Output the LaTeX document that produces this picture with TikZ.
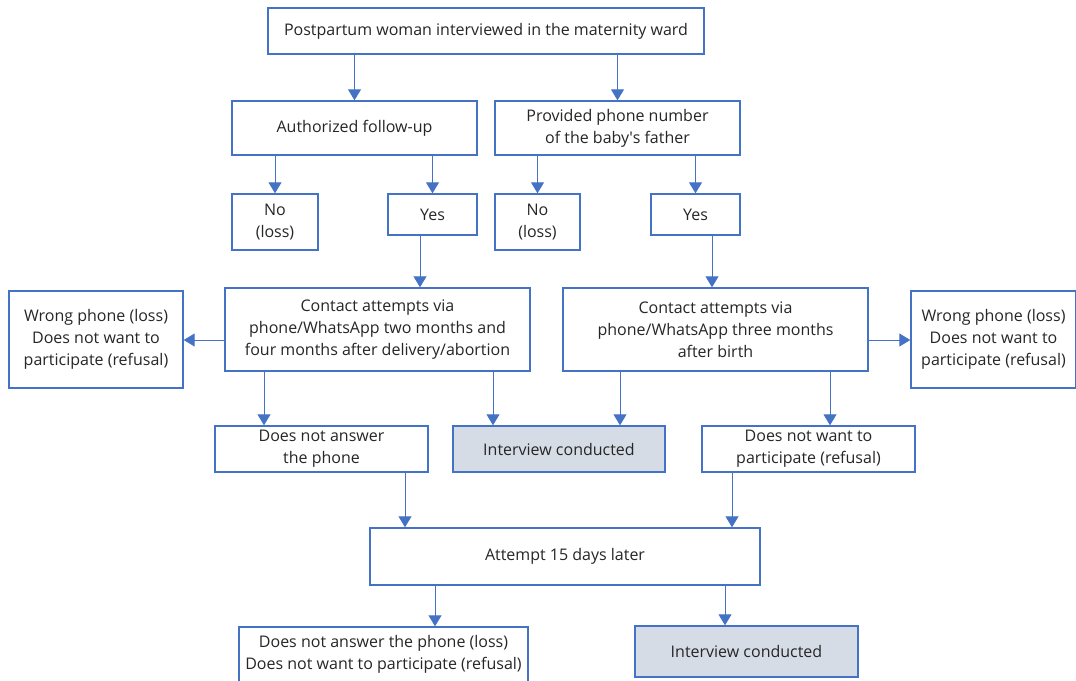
\documentclass[tikz,border=0pt]{standalone}
\usepackage{fontspec}
\setmainfont{Open Sans}
\usetikzlibrary{arrows.meta}
\definecolor{bblue}{HTML}{4472C4}
\definecolor{gfill}{HTML}{D6DCE5}
\definecolor{txt}{HTML}{262626}
\begin{document}
\begin{tikzpicture}[x=1pt,y=-1pt,
  box/.style={draw=bblue, line width=1.4pt, fill=white, align=center, inner sep=0pt, text=txt,
    font=\fontsize{16}{22}\selectfont},
  gbox/.style={box, fill=gfill},
  arr/.style={draw=bblue, line width=1pt, -{Triangle[length=11pt,width=13pt]}}]
\useasboundingbox (0,0) rectangle (1076,680);
\node[box, minimum width=436, minimum height=46] (top) at (486,31) {Postpartum woman interviewed in the maternity ward};
\node[box, minimum width=245, minimum height=54] (auth) at (354.5,128) {Authorized follow-up};
\node[box, minimum width=245, minimum height=54] (prov) at (617.5,128) {Provided phone number\\of the baby\textquotesingle s father};
\node[box, minimum width=86, minimum height=56] (noL) at (275,222) {No\\(loss)};
\node[box, minimum width=89, minimum height=41] (yesL) at (432.5,214.5) {Yes};
\node[box, minimum width=85, minimum height=56] (noR) at (537.5,222) {No\\(loss)};
\node[box, minimum width=89, minimum height=41] (yesR) at (695.5,214.5) {Yes};
\node[box, minimum width=305, minimum height=83] (contL) at (377.5,329.5) {Contact attempts via\\phone/WhatsApp two months and\\four months after delivery/abortion};
\node[box, minimum width=174, minimum height=97] (wrongL) at (96,339.5) {Wrong phone (loss)\\Does not want to\\participate (refusal)};
\node[box, minimum width=305, minimum height=83] (contR) at (715.5,329.5) {Contact attempts via\\phone/WhatsApp three months\\after birth};
\node[box, minimum width=165, minimum height=97] (wrongR) at (993.5,339.5) {Wrong phone (loss)\\Does not want to\\participate (refusal)};
\node[box, minimum width=213, minimum height=46] (dna) at (321.5,449) {Does not answer\\the phone};
\node[gbox, minimum width=212, minimum height=46] (intL) at (559,449) {Interview conducted};
\node[box, minimum width=213, minimum height=46] (dnw) at (808.5,449) {Does not want to\\participate (refusal)};
\node[box, minimum width=390, minimum height=57] (att) at (565,556.5) {Attempt 15 days later};
\node[box, minimum width=289, minimum height=55] (botL) at (383.5,654.5) {Does not answer the phone (loss)\\Does not want to participate (refusal)};
\node[gbox, minimum width=223, minimum height=51] (intB) at (746.5,651.5) {Interview conducted};

\draw[arr] (top.south -| auth.north) -- (auth.north);
\draw[arr] (top.south -| prov.north) -- (prov.north);
\draw[arr] (auth.south -| noL.north) -- (noL.north);
\draw[arr] (auth.south -| yesL.north) -- (yesL.north);
\draw[arr] (prov.south -| noR.north) -- (noR.north);
\draw[arr] (prov.south -| yesR.north) -- (yesR.north);
\draw[arr] (yesL.south -| 420,0) -- (contL.north -| 420,0);
\draw[arr] (yesR.south -| 712,0) -- (contR.north -| 712,0);
\draw[arr] (contL.west |- 0,340) -- (wrongL.east |- 0,340);
\draw[arr] (contR.east |- 0,340) -- (wrongR.west |- 0,340);
\draw[arr] (contL.south -| 264,0) -- (dna.north -| 264,0);
\draw[arr] (contL.south -| 493,0) -- (intL.north -| 493,0);
\draw[arr] (contR.south -| 620,0) -- (intL.north -| 620,0);
\draw[arr] (contR.south -| 830,0) -- (dnw.north -| 830,0);
\draw[arr] (dna.south -| 405,0) -- (att.north -| 405,0);
\draw[arr] (dnw.south -| 732,0) -- (att.north -| 732,0);
\draw[arr] (att.south -| 435,0) -- (botL.north -| 435,0);
\draw[arr] (att.south -| 725,0) -- (intB.north -| 725,0);
\end{tikzpicture}
\end{document}
